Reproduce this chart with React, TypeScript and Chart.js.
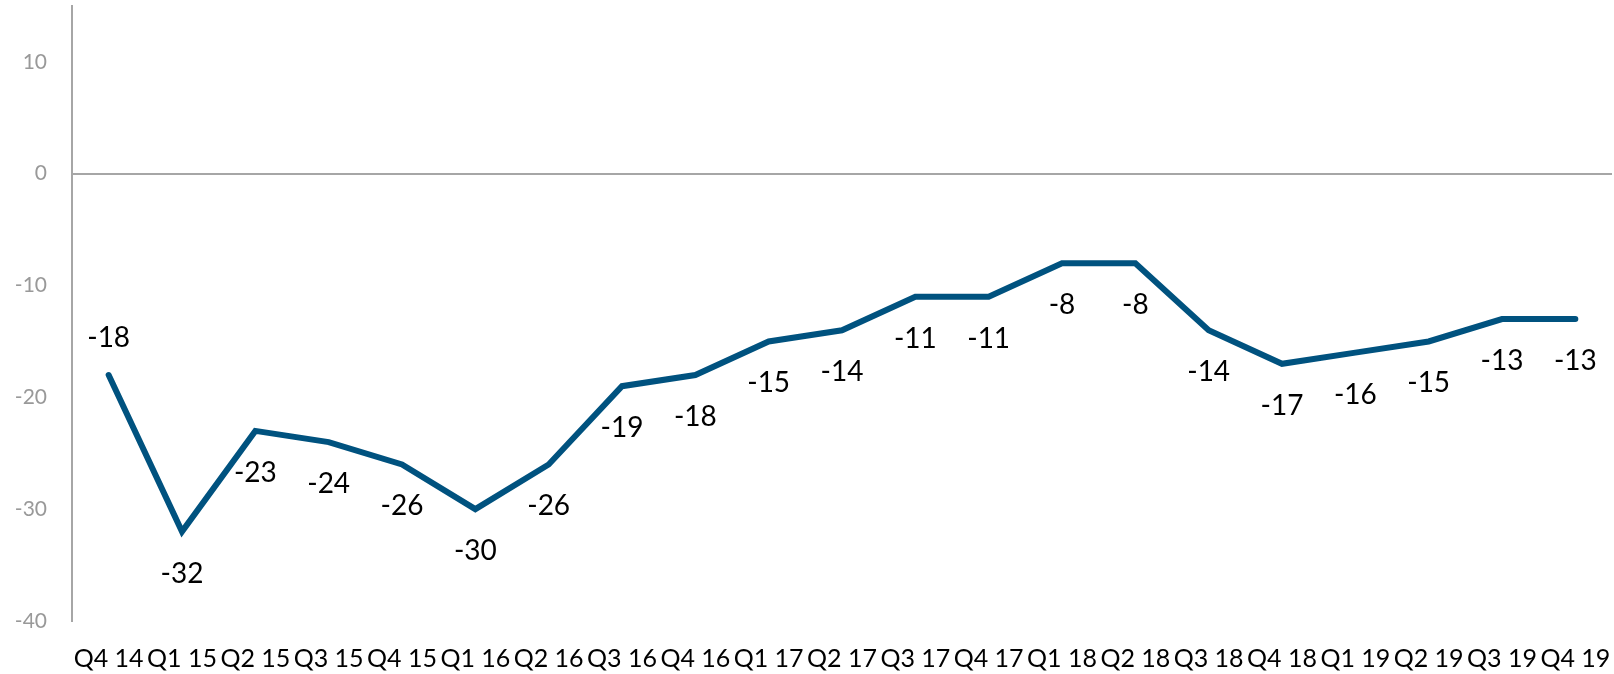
import React, { useEffect, useRef } from "react";
import { Chart, registerables } from "chart.js";

Chart.register(...registerables);

const categories = [
  "Q4 14", "Q1 15", "Q2 15", "Q3 15", "Q4 15", "Q1 16", "Q2 16", "Q3 16", "Q4 16",
  "Q1 17", "Q2 17", "Q3 17", "Q4 17", "Q1 18", "Q2 18", "Q3 18", "Q4 18",
  "Q1 19", "Q2 19", "Q3 19", "Q4 19",
];
const values = [-18, -32, -23, -24, -26, -30, -26, -19, -18, -15, -14, -11, -11, -8, -8, -14, -17, -16, -15, -13, -13];
const yTicks = [10, 0, -10, -20, -30, -40];
const labelsAbove = [0];

const LINE_COLOR = "#00527f";
const AXIS_GRAY = "#a6a6a6";
const FONT = "Lato, 'Open Sans', sans-serif";

const dataLabelPlugin = {
  id: "dataLabels",
  afterDatasetsDraw(chart: any) {
    const meta = chart.getDatasetMeta(0);
    const ctx = chart.ctx;
    ctx.save();
    ctx.font = `28px ${FONT}`;
    ctx.fillStyle = "#000000";
    ctx.textAlign = "center";
    ctx.textBaseline = "middle";
    meta.data.forEach((pt: any, i: number) => {
      const above = labelsAbove.includes(i);
      ctx.fillText(String(values[i]), pt.x, pt.y + (above ? -37 : 42));
    });
    ctx.restore();
  },
};

export default function App() {
  const canvasRef = useRef<HTMLCanvasElement | null>(null);

  useEffect(() => {
    if (!canvasRef.current) return;
    const chart = new Chart(canvasRef.current, {
      type: "line",
      data: {
        labels: categories,
        datasets: [
          {
            data: values,
            borderColor: LINE_COLOR,
            backgroundColor: LINE_COLOR,
            borderWidth: 6,
            pointRadius: 0,
            tension: 0,
            borderCapStyle: "round",
            borderJoinStyle: "miter",
            fill: false,
          },
        ],
      },
      options: {
        animation: false,
        responsive: true,
        maintainAspectRatio: false,
        layout: { padding: { top: 6, right: 2, left: 0, bottom: 0 } },
        plugins: {
          legend: { display: false },
          tooltip: { enabled: false },
          title: { display: false },
        },
        scales: {
          x: {
            type: "category",
            offset: true,
            grid: { display: false, drawTicks: false },
            border: { display: false },
            afterFit: (scale: any) => {
              scale.height = 53;
              scale.paddingLeft = 0;
              scale.paddingRight = 0;
            },
            ticks: {
              autoSkip: false,
              maxRotation: 0,
              minRotation: 0,
              padding: 23,
              color: "#000000",
              font: { family: FONT, size: 25 },
            },
          },
          y: {
            min: -40,
            max: 15,
            afterBuildTicks: (scale: any) => {
              scale.ticks = yTicks.map((v) => ({ value: v }));
            },
            afterFit: (scale: any) => {
              scale.width = 72;
              scale.paddingTop = 0;
              scale.paddingBottom = 0;
            },
            grid: {
              drawTicks: false,
              lineWidth: 2,
              color: (c: any) => (c.tick && c.tick.value === 0 ? AXIS_GRAY : "rgba(0,0,0,0)"),
            },
            border: { display: true, color: AXIS_GRAY, width: 2 },
            ticks: {
              padding: 25,
              color: "#999999",
              font: { family: FONT, size: 21 },
            },
          },
        },
      },
      plugins: [dataLabelPlugin],
    });
    return () => chart.destroy();
  }, []);

  return (
    <div style={{ position: "fixed", left: 0, top: 0, width: 1614, height: 674, background: "#ffffff" }}>
      <canvas ref={canvasRef} />
    </div>
  );
}
